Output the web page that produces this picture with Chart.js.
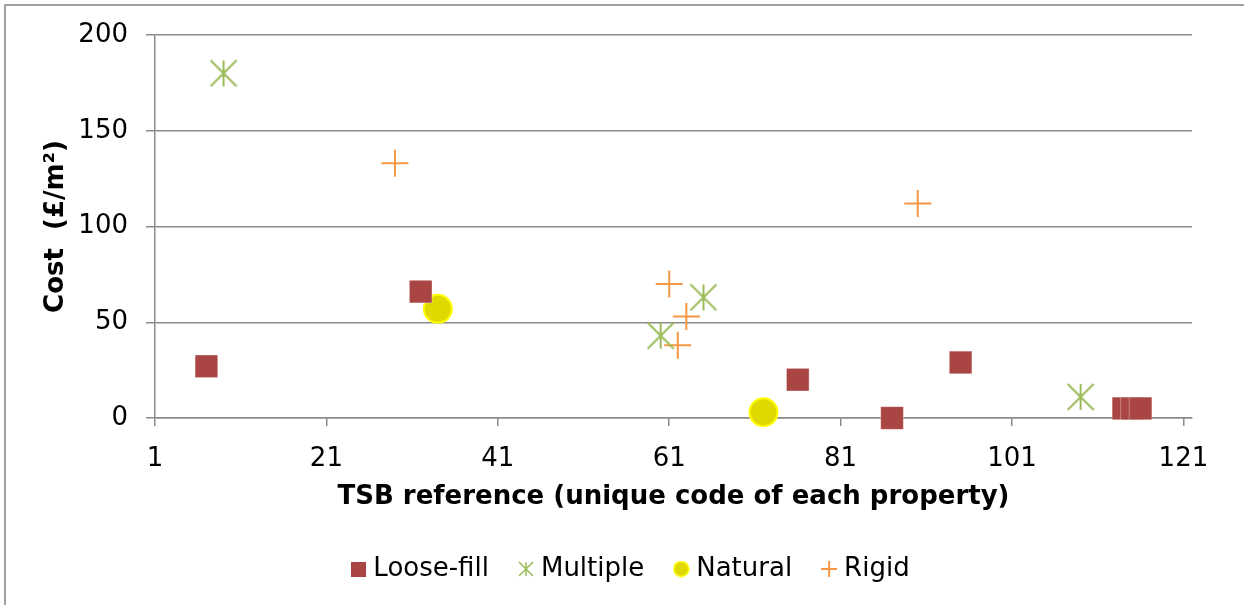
<!DOCTYPE html>
<html>
<head>
<meta charset="utf-8">
<script src="https://cdn.jsdelivr.net/npm/chart.js@4"></script>
<style>
body { margin: 0; background: #fff; }
#wrap { position: relative; width: 1244px; height: 605px; overflow: hidden; }
#frame { position: absolute; left: 4px; top: 4px; width: 1300px; height: 700px; border-left: 2px solid #a0a0a0; border-top: 2px solid #a0a0a0; pointer-events: none; }
</style>
</head>
<body>
<div id="wrap">
  <canvas id="cost-chart" width="1244" height="605"></canvas>
  <div id="frame"></div>
</div>
<script>
// values
const looseX = [7, 32, 76, 87, 95, 114, 115, 116];
const looseY = [27, 66, 20, 0, 29, 5, 5, 5];
const multipleX = [9, 60, 65, 109];
const multipleY = [180, 43, 63, 11];
const naturalX = [34, 72];
const naturalY = [57, 3];
const rigidX = [29, 90, 61, 63, 62];
const rigidY = [133, 112, 70, 53, 38];

const xTicks = [1, 21, 41, 61, 81, 101, 121];
const yTicks = [0, 50, 100, 150, 200];
const seriesNames = ['Loose-fill', 'Multiple', 'Natural', 'Rigid'];

const RED = '#a94542';
const GREEN = '#9bbb59';
const YELLOW = '#e0d900';
const YELLOW_EDGE = '#ffff00';
const ORANGE = '#f79646';
const FONT = "'DejaVu Sans', Verdana, sans-serif";

function toPoints(xs, ys) {
    return xs.map(function (x, i) { return {x: x, y: ys[i]}; });
}

// small canvases used as marker shapes
function marker(size, draw) {
    const c = document.createElement('canvas');
    c.width = size;
    c.height = size;
    draw(c.getContext('2d'), size);
    return c;
}
function asterisk(size, lw) {
    return marker(size, function (ctx, s) {
        ctx.strokeStyle = GREEN;
        ctx.lineWidth = lw;
        ctx.beginPath();
        ctx.moveTo(s / 2, 1); ctx.lineTo(s / 2, s - 1);
        ctx.moveTo(1, 1); ctx.lineTo(s - 1, s - 1);
        ctx.moveTo(s - 1, 1); ctx.lineTo(1, s - 1);
        ctx.stroke();
    });
}
function square(size) {
    return marker(size, function (ctx, s) {
        ctx.fillStyle = RED;
        ctx.fillRect(0, 0, s, s);
    });
}
function dot(size) {
    return marker(size, function (ctx, s) {
        ctx.fillStyle = YELLOW;
        ctx.strokeStyle = YELLOW_EDGE;
        ctx.lineWidth = 1.5;
        ctx.beginPath();
        ctx.arc(s / 2, s / 2, s / 2 - 1, 0, Math.PI * 2);
        ctx.fill();
        ctx.stroke();
    });
}
function plus(size) {
    return marker(size, function (ctx, s) {
        ctx.strokeStyle = ORANGE;
        ctx.lineWidth = 2;
        ctx.beginPath();
        ctx.moveTo(s / 2, 0); ctx.lineTo(s / 2, s);
        ctx.moveTo(0, s / 2); ctx.lineTo(s, s / 2);
        ctx.stroke();
    });
}

const legendMarks = [square(15), asterisk(16, 1.5), dot(17), plus(16)];

// the legend sits a little right of the box centre in the original
const legendShift = {
    id: 'legendShift',
    afterLayout: function (chart) {
        chart.legend.left += 37;
        chart.legend.right += 37;
    }
};

const ctx = document.getElementById('cost-chart');
const costChart = new Chart(ctx, {
    type: 'scatter',
    plugins: [legendShift],
    data: {
        datasets: [{
            label: seriesNames[0],
            data: toPoints(looseX, looseY),
            pointStyle: 'rect',
            pointRadius: 16,
            backgroundColor: RED,
            borderColor: 'rgba(255,255,255,0.35)',
            borderWidth: 1,
            clip: false
        }, {
            label: seriesNames[1],
            data: toPoints(multipleX, multipleY),
            pointStyle: asterisk(28, 2),
            pointRadius: 14,
            backgroundColor: GREEN,
            borderColor: GREEN,
            clip: false
        }, {
            label: seriesNames[2],
            data: toPoints(naturalX, naturalY),
            pointStyle: 'circle',
            pointRadius: 14,
            backgroundColor: YELLOW,
            borderColor: YELLOW_EDGE,
            borderWidth: 2,
            clip: false
        }, {
            label: seriesNames[3],
            data: toPoints(rigidX, rigidY),
            pointStyle: 'cross',
            pointRadius: 13.5,
            backgroundColor: ORANGE,
            borderColor: ORANGE,
            borderWidth: 2,
            clip: false
        }]
    },
    options: {
        responsive: false,
        animation: false,
        events: [],
        layout: {
            padding: {top: 35, right: 52, left: 0, bottom: 13}
        },
        plugins: {
            tooltip: {enabled: false},
            legend: {
                position: 'bottom',
                labels: {
                    usePointStyle: true,
                    boxWidth: 4,
                    boxHeight: 16,
                    padding: 35,
                    color: '#000',
                    font: {family: FONT, size: 26},
                    generateLabels: function (chart) {
                        return seriesNames.map(function (name, i) {
                            return {
                                text: name,
                                pointStyle: legendMarks[i],
                                fillStyle: 'transparent',
                                strokeStyle: 'transparent',
                                lineWidth: 0,
                                datasetIndex: i,
                                hidden: false
                            };
                        });
                    }
                }
            }
        },
        scales: {
            x: {
                type: 'linear',
                min: 1,
                max: 122,
                afterFit: function (scale) { scale.height = 103; },
                afterBuildTicks: function (scale) {
                    scale.ticks = xTicks.map(function (v) { return {value: v}; });
                },
                ticks: {
                    color: '#000',
                    padding: 18,
                    maxRotation: 0,
                    font: {family: FONT, size: 26}
                },
                grid: {
                    drawOnChartArea: false,
                    drawTicks: true,
                    tickLength: 8,
                    color: '#8a8a8a',
                    lineWidth: 1.5
                },
                border: {color: '#8a8a8a', width: 1.5},
                title: {
                    display: true,
                    text: 'TSB reference (unique code of each property)',
                    color: '#000',
                    padding: {top: 0, bottom: 8},
                    font: {family: FONT, size: 26, weight: 'bold'}
                }
            },
            y: {
                min: 0,
                max: 200,
                afterFit: function (scale) { scale.width = 155; },
                afterBuildTicks: function (scale) {
                    scale.ticks = yTicks.map(function (v) { return {value: v}; });
                },
                ticks: {
                    color: '#000',
                    padding: 18,
                    font: {family: FONT, size: 26}
                },
                grid: {
                    color: '#8a8a8a',
                    lineWidth: 1.5,
                    tickLength: 9
                },
                border: {color: '#8a8a8a', width: 1.5},
                title: {
                    display: true,
                    text: 'Cost  (£/m²)',
                    color: '#000',
                    padding: {top: 41, bottom: 0},
                    font: {family: FONT, size: 26, weight: 'bold'}
                }
            }
        }
    }
});
</script>
</body>
</html>
